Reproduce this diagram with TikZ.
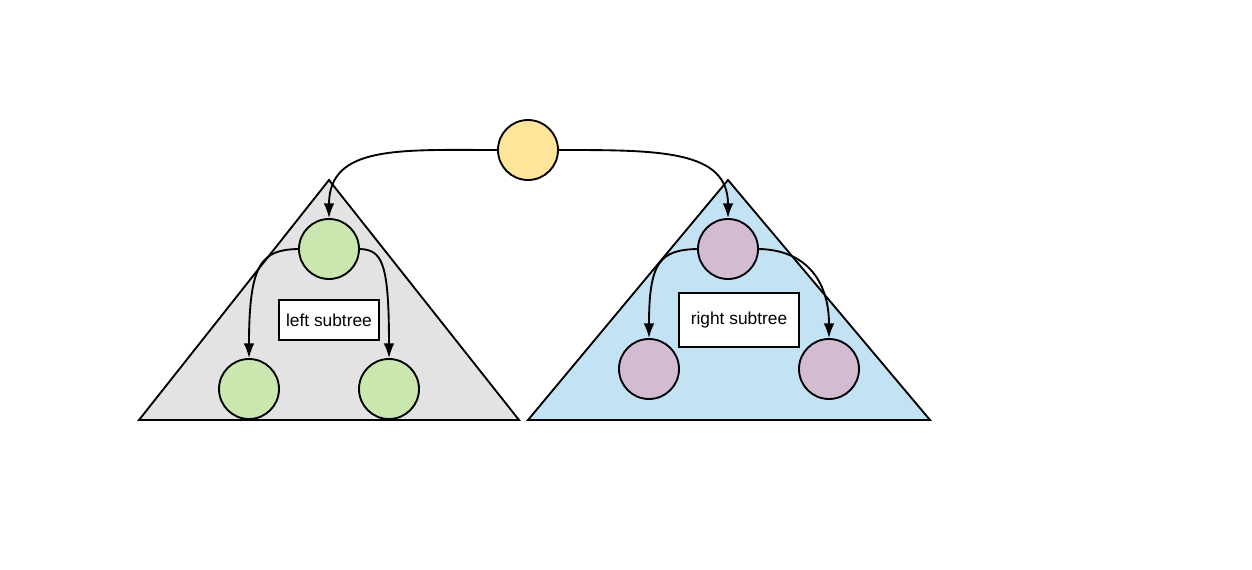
\documentclass[tikz,border=0pt]{standalone}
\usepackage{fontspec}
\setmainfont{Liberation Sans}
\usepackage{tikz}
\usetikzlibrary{arrows.meta,shapes,calc}

\definecolor{rootcol}{HTML}{FFE599}
\definecolor{leftcol}{HTML}{C9E7AE}
\definecolor{rightcol}{HTML}{D3BCD2}
\definecolor{lefttri}{HTML}{E3E3E3}
\definecolor{righttri}{HTML}{C3E3F5}

\begin{document}
\begin{tikzpicture}[x=0.75pt,y=-0.75pt,line width=1.4pt,
  >={Latex[length=11pt,width=8pt]},
  vert/.style={circle,draw,minimum size=45pt,inner sep=0pt},
  lbl/.style={draw,fill=white,font=\fontsize{13}{15}\selectfont,inner sep=0pt}]
\useasboundingbox (0,0) rectangle (1252,570);
%subtrees
\draw[fill=lefttri] (329,180) -- (519,420) -- (139,420) -- cycle;
\draw[fill=righttri] (728,180) -- (930,420) -- (528,420) -- cycle;
\node[lbl,minimum width=75pt,minimum height=30pt] (ltxt) at (329,320) {left subtree};
\node[lbl,minimum width=90pt,minimum height=40.5pt] (rtxt) at (739,320) {right subtree};
%vertices
\node[vert,fill=rootcol] (root) at (528,150) {};
\node[vert,fill=leftcol] (lroot) at (329,249) {};
\node[vert,fill=leftcol] (la) at (249,389) {};
\node[vert,fill=leftcol] (lb) at (389,389) {};
\node[vert,fill=rightcol] (rroot) at (728,249) {};
\node[vert,fill=rightcol] (ra) at (649,369) {};
\node[vert,fill=rightcol] (rb) at (829,369) {};
%edges
\draw[->] (root.west) .. controls (400,150) and (329,145) .. (lroot.north);
\draw[->] (root.east) .. controls (660,150) and (728,150) .. (rroot.north);
\draw[->] (lroot.west) .. controls (262,250) and (249,262) .. (la.north);
\draw[->] (lroot.east) .. controls (382,250) and (389,262) .. (lb.north);
\draw[->] (rroot.west) .. controls (660,250) and (649,262) .. (ra.north);
\draw[->] (rroot.east) .. controls (805,250) and (829,280) .. (rb.north);
\end{tikzpicture}
\end{document}
